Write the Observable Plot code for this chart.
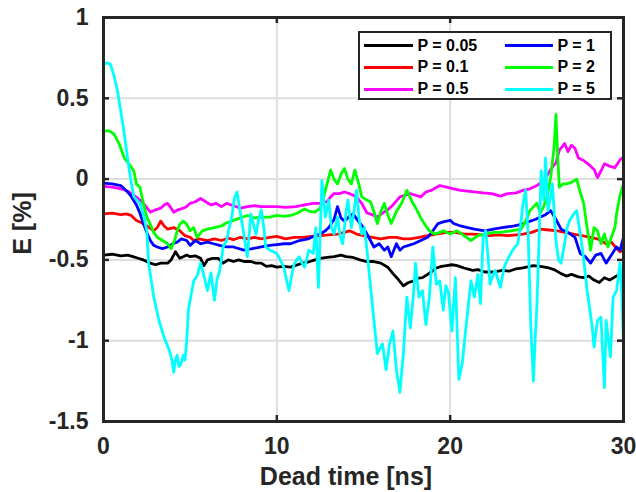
<!DOCTYPE html>
<html>
<head>
<meta charset="utf-8">
<script src="https://cdn.jsdelivr.net/npm/d3@7"></script>
<script src="https://cdn.jsdelivr.net/npm/@observablehq/plot@0.6"></script>
<style>
  html, body { margin: 0; padding: 0; background: #fff; }
  #wrap { position: relative; width: 636px; height: 492px; font-family: "Liberation Sans", Arial, Helvetica, sans-serif; color: #262626; }
  #wrap svg { position: absolute; left: 0; top: 0; }
  .xlabel { position: absolute; left: 246px; top: 463.8px; width: 200px; text-align: center; font-size: 25px; font-weight: bold; line-height: 25px; white-space: nowrap; }
  .ylabel { position: absolute; left: -28.3px; top: 211px; width: 100px; height: 25px; text-align: center; font-size: 25px; font-weight: bold; line-height: 25px; transform: rotate(-90deg); white-space: nowrap; }
  .legend { position: absolute; left: 358px; top: 30.5px; width: 254px; height: 69px; box-sizing: border-box; border: 2.5px solid #262626; background: #fff; }
  .legend .sw { position: absolute; height: 3px; }
  .legend .lb { position: absolute; font-size: 16px; font-weight: bold; line-height: 16px; color: #000; white-space: nowrap; }
</style>
</head>
<body>
<div id="wrap"></div>
<script>
// Tick values
const xTicks = [0, 10, 20, 30];
const yTicks = [-1.5, -1, -0.5, 0, 0.5, 1];
const gridXValues = [10, 20];
const gridYValues = [-1, -0.5, 0, 0.5];

// Series labels and colours (legend order, also drawing order)
const seriesLabels = ["P = 0.05", "P = 0.1", "P = 0.5", "P = 1", "P = 2", "P = 5"];
const seriesColors = ["#000000", "#ff0000", "#ff00ff", "#0000ff", "#00ff00", "#00ffff"];

// [dead time (ns), E (%)]
const p005 = [[0,-0.47],[0.5,-0.465],[1,-0.475],[1.4,-0.47],[1.7,-0.48],[2,-0.49],[2.3,-0.5],[2.7,-0.52],[3,-0.53],[3.3,-0.52],[3.7,-0.52],[3.9,-0.5],[4.15,-0.45],[4.4,-0.49],[4.6,-0.48],[4.8,-0.47],[5,-0.48],[5.3,-0.475],[5.6,-0.49],[5.8,-0.535],[6,-0.5],[6.3,-0.49],[6.6,-0.49],[6.9,-0.52],[7.2,-0.5],[7.5,-0.51],[7.8,-0.5],[8.1,-0.51],[8.5,-0.51],[8.8,-0.52],[9.1,-0.52],[9.4,-0.54],[9.7,-0.535],[10,-0.545],[10.4,-0.54],[10.8,-0.545],[11.2,-0.53],[11.5,-0.52],[11.9,-0.51],[12.2,-0.5],[12.5,-0.49],[12.9,-0.485],[13.3,-0.48],[13.7,-0.47],[14,-0.48],[14.4,-0.485],[14.8,-0.5],[15.2,-0.51],[15.6,-0.51],[16,-0.52],[16.4,-0.545],[16.7,-0.585],[17,-0.62],[17.3,-0.66],[17.6,-0.64],[17.9,-0.63],[18.1,-0.615],[18.4,-0.61],[18.7,-0.59],[18.9,-0.575],[19.2,-0.55],[19.5,-0.54],[19.8,-0.535],[20.1,-0.53],[20.4,-0.535],[20.8,-0.55],[21.3,-0.565],[21.6,-0.56],[22,-0.575],[22.5,-0.575],[23,-0.565],[23.4,-0.57],[23.8,-0.555],[24.2,-0.55],[24.8,-0.535],[25.2,-0.54],[25.7,-0.55],[26,-0.56],[26.4,-0.585],[26.7,-0.6],[27,-0.59],[27.4,-0.605],[27.7,-0.61],[28,-0.6],[28.3,-0.625],[28.6,-0.64],[28.9,-0.61],[29.2,-0.625],[29.6,-0.6],[30,-0.58]];

const p01 = [[0,-0.215],[0.5,-0.21],[1,-0.22],[1.3,-0.215],[1.6,-0.225],[1.9,-0.256],[2.2,-0.27],[2.5,-0.29],[2.9,-0.32],[3.1,-0.3],[3.3,-0.26],[3.5,-0.29],[3.7,-0.31],[4.05,-0.3],[4.4,-0.32],[4.7,-0.35],[5,-0.36],[5.2,-0.38],[5.5,-0.37],[6,-0.38],[6.4,-0.37],[6.8,-0.38],[7.2,-0.365],[7.5,-0.375],[7.9,-0.36],[8.3,-0.37],[8.7,-0.36],[9.1,-0.37],[9.6,-0.36],[10,-0.355],[10.5,-0.37],[11,-0.36],[11.5,-0.36],[12,-0.355],[12.5,-0.35],[13,-0.345],[13.5,-0.34],[13.9,-0.33],[14.2,-0.32],[14.6,-0.34],[15,-0.35],[15.5,-0.36],[16,-0.37],[16.5,-0.36],[16.9,-0.36],[17.3,-0.37],[17.7,-0.37],[18.2,-0.36],[18.7,-0.35],[19.2,-0.34],[19.8,-0.33],[20.3,-0.33],[20.8,-0.34],[21.3,-0.34],[21.8,-0.345],[22.3,-0.35],[22.8,-0.345],[23.3,-0.35],[23.8,-0.345],[24.2,-0.34],[24.7,-0.33],[25.2,-0.31],[25.7,-0.315],[26.2,-0.32],[26.6,-0.33],[27.1,-0.34],[27.6,-0.35],[28.1,-0.36],[28.5,-0.37],[29,-0.4],[29.3,-0.39],[29.6,-0.43],[29.8,-0.45],[30,-0.44]];

const p05 = [[0,-0.045],[0.5,-0.05],[1,-0.06],[1.4,-0.075],[1.75,-0.1],[2,-0.12],[2.3,-0.15],[2.7,-0.205],[3,-0.19],[3.3,-0.18],[3.5,-0.16],[3.7,-0.15],[3.9,-0.18],[4.05,-0.205],[4.3,-0.19],[4.6,-0.18],[4.8,-0.17],[5,-0.15],[5.3,-0.14],[5.6,-0.12],[5.9,-0.14],[6.2,-0.16],[6.5,-0.15],[6.8,-0.17],[7.1,-0.15],[7.5,-0.165],[7.9,-0.18],[8.3,-0.17],[8.7,-0.165],[9.1,-0.17],[9.6,-0.17],[10,-0.17],[10.5,-0.175],[11.1,-0.17],[11.6,-0.16],[12.1,-0.15],[12.5,-0.15],[12.9,-0.14],[13.1,-0.11],[13.3,-0.09],[13.6,-0.09],[13.9,-0.08],[14.2,-0.09],[14.6,-0.11],[14.9,-0.15],[15.2,-0.21],[15.5,-0.22],[15.8,-0.235],[16.1,-0.21],[16.4,-0.19],[16.7,-0.16],[17.1,-0.11],[17.4,-0.1],[17.7,-0.09],[18,-0.1],[18.3,-0.11],[18.6,-0.08],[18.9,-0.07],[19.4,-0.04],[19.8,-0.05],[20.2,-0.06],[20.6,-0.07],[21,-0.075],[21.5,-0.08],[21.9,-0.085],[22.4,-0.09],[22.9,-0.105],[23.3,-0.09],[23.8,-0.085],[24.2,-0.07],[24.6,-0.06],[25,-0.04],[25.4,-0.01],[25.8,0.06],[26.1,0.1],[26.3,0.18],[26.6,0.22],[26.8,0.17],[27,0.21],[27.2,0.19],[27.4,0.13],[27.7,0.115],[28,0.09],[28.3,0.06],[28.5,0.01],[28.7,0.05],[28.9,0.095],[29.2,0.08],[29.5,0.07],[29.8,0.12],[30,0.135]];

const p1 = [[0,-0.025],[0.5,-0.03],[1,-0.04],[1.3,-0.07],[1.56,-0.1],[1.9,-0.16],[2.1,-0.21],[2.3,-0.275],[2.5,-0.33],[2.7,-0.38],[2.9,-0.41],[3.1,-0.42],[3.4,-0.43],[3.7,-0.42],[4,-0.4],[4.25,-0.39],[4.5,-0.37],[4.8,-0.38],[5,-0.41],[5.3,-0.38],[5.6,-0.4],[6,-0.39],[6.35,-0.4],[6.7,-0.41],[7.1,-0.42],[7.5,-0.42],[8.1,-0.44],[8.6,-0.43],[9.1,-0.42],[9.6,-0.41],[10,-0.405],[10.4,-0.4],[10.8,-0.4],[11.3,-0.38],[11.8,-0.37],[12.2,-0.35],[12.5,-0.34],[12.8,-0.32],[13,-0.3],[13.3,-0.25],[13.5,-0.17],[13.7,-0.24],[13.9,-0.26],[14.2,-0.23],[14.4,-0.215],[14.7,-0.26],[15,-0.3],[15.3,-0.36],[15.6,-0.42],[15.9,-0.4],[16.2,-0.44],[16.4,-0.42],[16.6,-0.48],[16.9,-0.4],[17.1,-0.44],[17.3,-0.42],[17.6,-0.41],[17.9,-0.4],[18.3,-0.38],[18.7,-0.36],[19,-0.32],[19.3,-0.275],[19.6,-0.265],[20,-0.255],[20.2,-0.275],[20.6,-0.29],[21,-0.3],[21.4,-0.31],[22,-0.32],[22.5,-0.31],[23,-0.3],[23.7,-0.29],[24.1,-0.28],[24.5,-0.265],[24.9,-0.25],[25.2,-0.235],[25.5,-0.22],[25.8,-0.195],[26.1,-0.25],[26.4,-0.31],[26.8,-0.33],[27.2,-0.36],[27.5,-0.46],[27.8,-0.48],[28.1,-0.52],[28.4,-0.47],[28.7,-0.46],[29,-0.52],[29.3,-0.47],[29.6,-0.42],[29.8,-0.44],[30,-0.36]];

const p2 = [[0,0.295],[0.3,0.3],[0.6,0.28],[0.9,0.22],[1.2,0.13],[1.5,0.09],[1.75,0.05],[1.9,-0.03],[2.1,-0.05],[2.3,-0.15],[2.5,-0.235],[2.7,-0.28],[2.9,-0.33],[3.1,-0.36],[3.4,-0.38],[3.7,-0.4],[3.9,-0.43],[4.1,-0.38],[4.25,-0.32],[4.4,-0.28],[4.6,-0.26],[4.8,-0.28],[5,-0.32],[5.2,-0.3],[5.4,-0.36],[5.7,-0.32],[6,-0.31],[6.4,-0.3],[6.8,-0.29],[7.1,-0.27],[7.5,-0.255],[7.9,-0.24],[8.3,-0.225],[8.7,-0.24],[9.1,-0.235],[9.6,-0.235],[10,-0.225],[10.4,-0.23],[10.8,-0.225],[11.2,-0.21],[11.6,-0.185],[11.9,-0.2],[12.2,-0.205],[12.5,-0.18],[12.7,-0.11],[12.9,-0.03],[13.1,0.055],[13.3,0],[13.5,-0.03],[13.7,0.03],[13.9,0.065],[14.1,0],[14.3,-0.03],[14.5,0.055],[14.7,-0.02],[14.9,-0.11],[15.2,-0.13],[15.4,-0.14],[15.6,-0.2],[15.8,-0.275],[16,-0.2],[16.2,-0.15],[16.4,-0.22],[16.6,-0.275],[16.9,-0.2],[17.2,-0.15],[17.5,-0.07],[17.8,-0.14],[18.1,-0.195],[18.3,-0.24],[18.5,-0.275],[18.8,-0.32],[19.1,-0.34],[19.4,-0.33],[19.6,-0.32],[20,-0.34],[20.4,-0.32],[20.8,-0.35],[21.2,-0.38],[21.6,-0.35],[22,-0.34],[22.5,-0.33],[22.9,-0.33],[23.5,-0.32],[24.1,-0.31],[24.4,-0.25],[24.6,-0.195],[25,-0.15],[25.2,-0.21],[25.4,-0.17],[25.6,-0.1],[25.8,0.01],[26,0.2],[26.1,0.4],[26.2,0.15],[26.3,-0.05],[26.5,-0.03],[26.7,-0.03],[27,-0.02],[27.3,0],[27.5,-0.08],[27.7,-0.15],[27.9,-0.3],[28.1,-0.44],[28.3,-0.3],[28.5,-0.32],[28.7,-0.4],[28.9,-0.34],[29.1,-0.42],[29.3,-0.36],[29.5,-0.3],[29.6,-0.215],[29.8,-0.1],[30,-0.03]];

const p5 = [[0,0.71],[0.2,0.72],[0.4,0.71],[0.6,0.64],[0.8,0.55],[1,0.42],[1.2,0.28],[1.4,0.12],[1.55,0.01],[1.75,-0.11],[2.1,-0.15],[2.3,-0.22],[2.5,-0.32],[2.6,-0.52],[2.9,-0.73],[3.2,-0.875],[3.5,-0.98],[3.8,-1.06],[3.95,-1.12],[4.05,-1.195],[4.15,-1.12],[4.25,-1.09],[4.35,-1.16],[4.45,-1.15],[4.6,-1.09],[4.7,-1.12],[4.8,-1],[4.9,-0.81],[5.05,-0.72],[5.2,-0.63],[5.4,-0.6],[5.6,-0.52],[5.8,-0.6],[6,-0.69],[6.2,-0.58],[6.4,-0.75],[6.55,-0.62],[6.7,-0.57],[6.9,-0.42],[7.1,-0.38],[7.25,-0.3],[7.4,-0.235],[7.55,-0.12],[7.7,-0.08],[7.85,-0.18],[8,-0.275],[8.15,-0.38],[8.3,-0.48],[8.5,-0.215],[8.65,-0.28],[8.8,-0.34],[8.95,-0.25],[9.1,-0.19],[9.25,-0.3],[9.35,-0.42],[9.6,-0.44],[9.8,-0.45],[10,-0.46],[10.2,-0.5],[10.4,-0.545],[10.55,-0.62],[10.7,-0.69],[10.85,-0.6],[11,-0.525],[11.15,-0.5],[11.3,-0.48],[11.45,-0.52],[11.6,-0.545],[11.85,-0.44],[12.1,-0.46],[12.25,-0.3],[12.4,-0.67],[12.6,-0.01],[12.8,-0.235],[13,-0.13],[13.15,-0.3],[13.3,-0.34],[13.5,-0.235],[13.65,-0.35],[13.8,-0.4],[14,-0.2],[14.1,-0.13],[14.3,-0.3],[14.45,-0.2],[14.6,-0.07],[14.75,-0.25],[14.9,-0.34],[15.05,-0.3],[15.2,-0.44],[15.4,-0.66],[15.6,-0.875],[15.8,-1.08],[15.95,-1.05],[16.1,-1.02],[16.3,-1.18],[16.5,-1.02],[16.7,-0.94],[16.9,-1.18],[17.1,-1.32],[17.3,-1.08],[17.5,-0.73],[17.7,-0.92],[17.9,-0.69],[18,-0.52],[18.2,-0.73],[18.4,-0.69],[18.6,-0.9],[18.8,-0.73],[19,-0.42],[19.2,-0.65],[19.4,-0.63],[19.6,-0.81],[19.75,-0.66],[19.9,-0.7],[20.1,-0.94],[20.3,-0.61],[20.5,-1.24],[20.7,-1.14],[20.85,-0.98],[21,-0.83],[21.2,-0.63],[21.4,-0.73],[21.6,-0.59],[21.75,-0.77],[21.9,-0.36],[22.05,-0.32],[22.2,-0.5],[22.3,-0.65],[22.45,-0.6],[22.6,-0.565],[22.75,-0.62],[22.9,-0.67],[23.1,-0.55],[23.3,-0.5],[23.45,-0.47],[23.6,-0.44],[23.75,-0.42],[23.9,-0.4],[24.05,-0.3],[24.2,-0.15],[24.35,-0.07],[24.5,-0.34],[24.65,-0.9],[24.8,-1.25],[24.9,-1],[25,-0.79],[25.15,-0.3],[25.25,0.05],[25.4,-0.13],[25.5,0.13],[25.65,-0.195],[25.8,-0.1],[25.9,-0.03],[26.1,-0.38],[26.25,-0.5],[26.4,-0.52],[26.6,-0.4],[26.75,-0.3],[26.9,-0.255],[27.1,-0.22],[27.3,-0.195],[27.5,-0.34],[27.65,-0.45],[27.8,-0.59],[27.9,-0.69],[28.05,-0.8],[28.2,-0.92],[28.3,-1.04],[28.5,-0.875],[28.7,-0.855],[28.9,-1.29],[29,-0.875],[29.25,-1.1],[29.4,-0.73],[29.6,-0.69],[29.8,-0.52],[29.9,-0.7],[30,-1.02]];

const seriesData = [p005, p01, p05, p1, p2, p5];

const W = 636, H = 492;
const mL = 103, mR = 13, mT = 17, mB = 71;
const plotW = W - mL - mR, plotH = H - mT - mB;
const axisColor = "#262626";
const tickLen = 6;

const lineMarks = seriesData.map((pts, i) =>
  Plot.line(pts, {x: d => d[0], y: d => d[1], stroke: seriesColors[i], strokeWidth: 2.8, strokeLinejoin: "round", strokeLinecap: "round"})
);

const chart = Plot.plot({
  width: W, height: H,
  marginLeft: mL, marginRight: mR, marginTop: mT, marginBottom: mB,
  x: {domain: [0, 30], ticks: xTicks, tickSize: 0, tickPadding: 16, label: null, tickFormat: d => String(d)},
  y: {domain: [-1.5, 1], ticks: yTicks, tickSize: 0, tickPadding: 15, label: null, tickFormat: d => String(d)},
  style: {fontFamily: "'Liberation Sans', Arial, Helvetica, sans-serif", fontSize: "23px", fontWeight: "bold", color: axisColor, background: "transparent", overflow: "visible"},
  marks: [
    Plot.ruleX(gridXValues, {stroke: "#dedede", strokeWidth: 2}),
    Plot.ruleY(gridYValues, {stroke: "#dedede", strokeWidth: 2}),
    ...lineMarks,
    Plot.tickY(yTicks, {y: d => d, stroke: axisColor, strokeWidth: 2.5, insetRight: plotW - tickLen}),
    Plot.tickY(yTicks, {y: d => d, stroke: axisColor, strokeWidth: 2.5, insetLeft: plotW - tickLen}),
    Plot.tickX(xTicks, {x: d => d, stroke: axisColor, strokeWidth: 2.5, insetTop: plotH - tickLen}),
    Plot.tickX(xTicks, {x: d => d, stroke: axisColor, strokeWidth: 2.5, insetBottom: plotH - tickLen}),
    Plot.frame({stroke: axisColor, strokeWidth: 3})
  ]
});

const wrap = document.getElementById("wrap");
wrap.appendChild(chart);

// Axis titles
const xl = document.createElement("div");
xl.className = "xlabel";
xl.textContent = "Dead time [ns]";
wrap.appendChild(xl);
const yl = document.createElement("div");
yl.className = "ylabel";
yl.textContent = "E [%]";
wrap.appendChild(yl);

// Legend (two columns, three rows, column-major order)
const legend = document.createElement("div");
legend.className = "legend";
const rowY = [13.2, 34.8, 56.8];   // row centres inside the box
const colSw = [[3.5, 52.5], [144.5, 192.5]];
const colTx = [57.5, 197.5];
seriesLabels.forEach((lab, i) => {
  const col = Math.floor(i / 3), row = i % 3;
  const sw = document.createElement("div");
  sw.className = "sw";
  sw.style.left = colSw[col][0] + "px";
  sw.style.width = (colSw[col][1] - colSw[col][0]) + "px";
  sw.style.top = (rowY[row] - 1.5) + "px";
  sw.style.background = seriesColors[i];
  legend.appendChild(sw);
  const tx = document.createElement("div");
  tx.className = "lb";
  tx.style.left = colTx[col] + "px";
  tx.style.top = (rowY[row] - 8) + "px";
  tx.textContent = lab;
  legend.appendChild(tx);
});
wrap.appendChild(legend);
</script>
</body>
</html>
